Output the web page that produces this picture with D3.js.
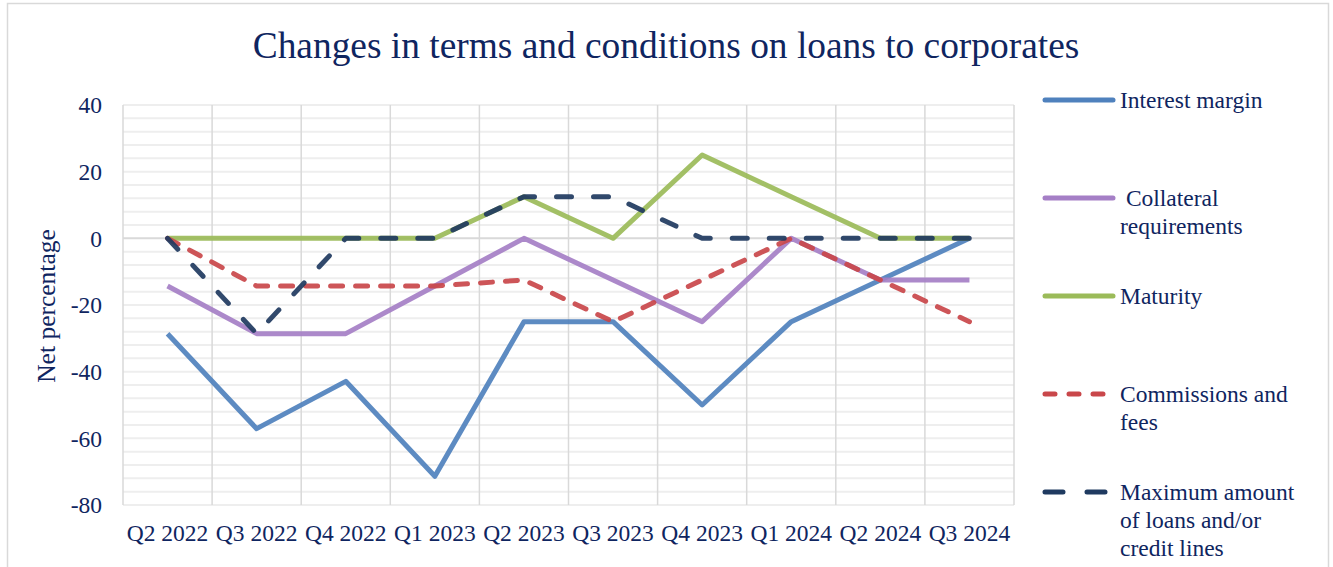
<!DOCTYPE html>
<html>
<head>
<meta charset="utf-8">
<script src="https://cdn.jsdelivr.net/npm/d3@7"></script>
<style>
  body { margin: 0; background: #fff; }
  text { font-family: "Liberation Serif", "Times New Roman", serif; fill: #0f2560; }
</style>
</head>
<body>
<script>
var quarters = ["Q2 2022", "Q3 2022", "Q4 2022", "Q1 2023", "Q2 2023", "Q3 2023", "Q4 2023", "Q1 2024", "Q2 2024", "Q3 2024"];
var interestMargin = [-28.6, -57.1, -42.9, -71.4, -25, -25, -50, -25, -12.5, 0];
var collateral = [-14.3, -28.6, -28.6, -14.3, 0, -12.5, -25, 0, -12.5, -12.5];
var maturity = [0, 0, 0, 0, 12.5, 0, 25, 12.5, 0, 0];
var commissions = [0, -14.3, -14.3, -14.3, -12.5, -25, -12.5, 0, -12.5, -25];
var maxAmount = [0, -28.6, 0, 0, 12.5, 12.5, 0, 0, 0, 0];
var yTicks = [40, 20, 0, -20, -40, -60, -80];

var series = [
  { name: ["Interest margin"], values: interestMargin, color: "#4f81bd", dash: null },
  { name: [" Collateral", "requirements"], values: collateral, color: "#a57fc6", dash: null },
  { name: ["Maturity"], values: maturity, color: "#9bbb59", dash: null },
  { name: ["Commissions and", "fees"], values: commissions, color: "#c9474a", dash: "12,13" },
  { name: ["Maximum amount", "of loans and/or", "credit lines"], values: maxAmount, color: "#1f3a60", dash: "15,22" }
];

var width = 1333, height = 567;
var svg = d3.select("body").append("svg").attr("width", width).attr("height", height);

// outer frame
svg.append("rect")
  .attr("x", 7.5).attr("y", 3.5)
  .attr("width", 1321).attr("height", 600)
  .attr("fill", "none").attr("stroke", "#d9d9d9").attr("stroke-width", 1.5);

var x = d3.scaleBand().domain(quarters).range([123, 1014]);
var y = d3.scaleLinear().domain([-80, 40]).range([505, 105]);

// minor horizontal grid
svg.append("g").selectAll("line")
  .data(d3.range(-80, 41, 4))
  .enter().append("line")
  .attr("x1", 123).attr("x2", 1014)
  .attr("y1", function (d) { return y(d); })
  .attr("y2", function (d) { return y(d); })
  .attr("stroke", function (d) { return d === 0 ? "#d9d9d9" : "#eeeeee"; })
  .attr("stroke-width", 2);

// vertical grid at category edges
svg.append("g").selectAll("line")
  .data(quarters.concat(["end"]))
  .enter().append("line")
  .attr("x1", function (d, i) { return 123 + i * x.bandwidth(); })
  .attr("x2", function (d, i) { return 123 + i * x.bandwidth(); })
  .attr("y1", 105).attr("y2", 505)
  .attr("stroke", "#d9d9d9").attr("stroke-width", 1.5);

// y tick labels
svg.append("g").selectAll("text")
  .data(yTicks)
  .enter().append("text")
  .attr("x", 102)
  .attr("y", function (d) { return y(d); })
  .attr("dy", "0.35em")
  .attr("text-anchor", "end")
  .style("font-size", "23.5px")
  .text(function (d) { return d; });

// x tick labels
svg.append("g").selectAll("text")
  .data(quarters)
  .enter().append("text")
  .attr("x", function (d) { return x(d) + x.bandwidth() / 2; })
  .attr("y", 541)
  .attr("text-anchor", "middle")
  .style("font-size", "23.5px")
  .text(function (d) { return d; });

// title
svg.append("text")
  .attr("x", 666).attr("y", 58)
  .attr("text-anchor", "middle")
  .style("font-size", "37.4px")
  .text("Changes in terms and conditions on loans to corporates");

// y axis title
svg.append("text")
  .attr("transform", "translate(55,306) rotate(-90)")
  .attr("text-anchor", "middle")
  .style("font-size", "25.5px")
  .text("Net percentage");

var line = d3.line()
  .x(function (d, i) { return x(quarters[i]) + x.bandwidth() / 2; })
  .y(function (d) { return y(d); });

svg.append("g").selectAll("path")
  .data(series)
  .enter().append("path")
  .attr("d", function (d) { return line(d.values); })
  .attr("fill", "none")
  .attr("stroke", function (d) { return d.color; })
  .attr("stroke-width", 5)
  .attr("stroke-opacity", 0.92)
  .attr("stroke-linecap", function (d) { return d.dash ? "round" : "butt"; })
  .attr("stroke-linejoin", "round")
  .attr("stroke-dasharray", function (d) { return d.dash; });

// legend
var legend = svg.append("g").selectAll("g")
  .data(series)
  .enter().append("g")
  .attr("transform", function (d, i) { return "translate(1045," + (100 + i * 98) + ")"; });

legend.append("line")
  .attr("x1", 0).attr("x2", 68)
  .attr("stroke", function (d) { return d.color; })
  .attr("stroke-width", 5)
  .attr("stroke-linecap", "round")
  .attr("stroke-dasharray", function (d, i) { return i === 3 ? "10,14" : i === 4 ? "18,24" : null; });

legend.append("text")
  .attr("x", 75)
  .style("font-size", "23.5px")
  .style("white-space", "pre")
  .selectAll("tspan")
  .data(function (d) { return d.name; })
  .enter().append("tspan")
  .attr("x", 75)
  .attr("y", function (d, i) { return i * 28; })
  .attr("dy", "0.35em")
  .text(function (d) { return d; });
</script>
</body>
</html>
